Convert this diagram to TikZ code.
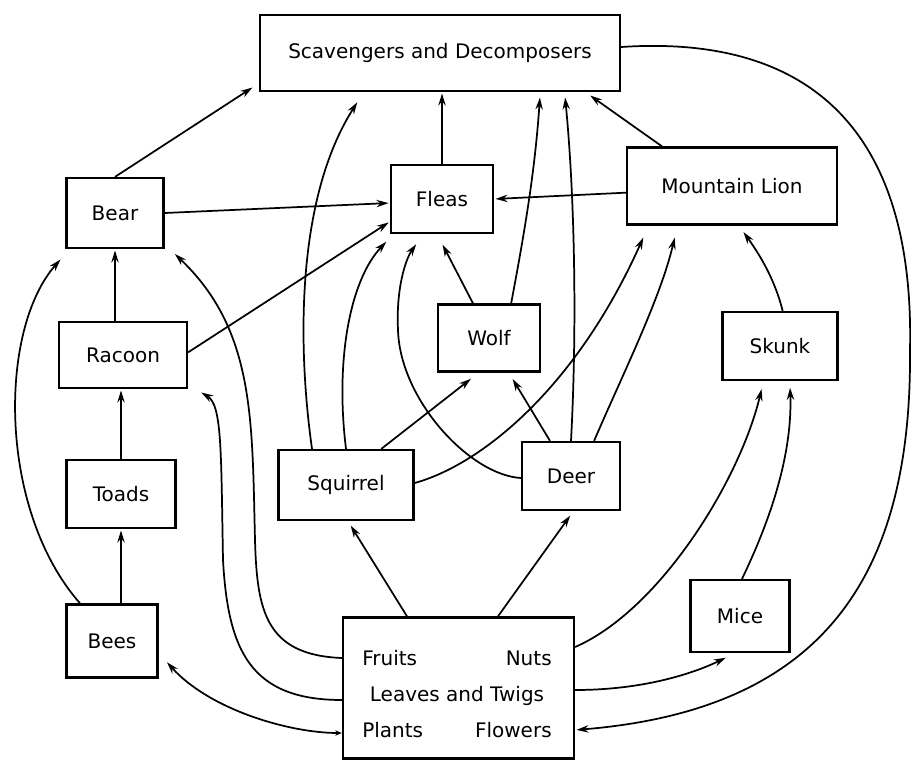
\documentclass[tikz,border=0pt]{standalone}
\usepackage{fontspec}
\setmainfont{DejaVu Sans}
\usetikzlibrary{arrows.meta}
\begin{document}
\begin{tikzpicture}[x=0.75pt,y=-0.75pt,
  box/.style={draw, line width=1.7pt, inner sep=0pt, font=\fontsize{15pt}{18pt}\selectfont},
  txt/.style={inner sep=0pt, align=center, font=\fontsize{15pt}{18pt}\selectfont},
  conn/.style={line width=1.3pt, -{Stealth[length=9pt,width=5.5pt]}, shorten >=1pt},
]
\useasboundingbox (0,0) rectangle (911,764);
\fill[white] (0,0) rectangle (911,764);

% nodes
\node[box, minimum width=270pt, minimum height=57pt] (scav) at (440,53) {Scavengers and Decomposers};
\node[box, minimum width=72.75pt, minimum height=52.5pt] (bear) at (115,213) {Bear};
\node[box, minimum width=76.5pt, minimum height=51pt] (fleas) at (442,199) {Fleas};
\node[box, minimum width=157.5pt, minimum height=57.75pt] (lion) at (732,186) {Mountain Lion};
\node[box, minimum width=96pt, minimum height=49.5pt] (racoon) at (123,355) {Racoon};
\node[box, minimum width=76.5pt, minimum height=50.25pt] (wolf) at (489,338) {Wolf};
\node[box, minimum width=86.25pt, minimum height=51pt] (skunk) at (780,346) {Skunk};
\node[box, minimum width=81.75pt, minimum height=51pt] (toads) at (121,494) {Toads};
\node[box, minimum width=101.25pt, minimum height=52.5pt] (squirrel) at (346,485) {Squirrel};
\node[box, minimum width=73.5pt, minimum height=51pt] (deer) at (571,476) {Deer};
\node[box, minimum width=68.25pt, minimum height=54.75pt] (bees) at (112,641) {Bees};
\node[box, minimum width=74.25pt, minimum height=54pt] (mice) at (740,616) {Mice};
\node[box, minimum width=173.25pt, minimum height=105.75pt] (plants) at (458.5,688) {};
\node[txt] (plantstext) at (457,694) {\makebox[142pt]{Fruits\hfill Nuts}\\[9pt]Leaves and Twigs\\[9pt]\makebox[142pt]{Plants\hfill Flowers}};

% connectors
\draw[conn] (bear.north) -- ([xshift=-4pt,yshift=4pt]scav.south west);
\draw[conn] (bear.east) -- ([yshift=-3pt]fleas.west);
\draw[conn] (racoon.north -| bear.south) -- (bear.south);
\draw[conn] ([yshift=2pt]racoon.east) -- ([yshift=-17pt]fleas.west);
\draw[conn] (toads.north) -- (racoon.south -| toads.north);
\draw[conn] (bees.north -| toads.south) -- (toads.south);
\draw[conn] ([xshift=11pt]bees.north west) .. controls (-2,510) and (-2,330) .. ([xshift=-3pt,yshift=-7pt]bear.south west);

\draw[conn] ([yshift=22.5pt]plants.west) .. controls (265,655) and (257,610) .. (255,540) .. controls (252,420) and (255,330) .. ([xshift=7pt,yshift=-3pt]bear.south east);
\draw[conn] ([yshift=-9pt]plants.west) .. controls (250,700) and (228,650) .. (223,560) .. controls (221,450) and (222,405) .. ([xshift=9pt,yshift=-2pt]racoon.south east);

\draw[conn] ([xshift=-25.5pt]squirrel.north) .. controls (298,350) and (295,200) .. ([xshift=-61.5pt,yshift=-6.75pt]scav.south);
\draw[conn] (squirrel.north) .. controls (335,360) and (350,280) .. ([xshift=-2pt,yshift=-5pt]fleas.south west);
\draw[conn] ([xshift=-25pt]squirrel.north east) -- ([xshift=-12.75pt,yshift=-4pt]wolf.south);
\draw[conn] ([yshift=1.5pt]squirrel.east) .. controls (480,465) and (575,390) .. ([xshift=13.5pt,yshift=-8pt]lion.south west);

\draw[conn] ([yshift=-1.5pt]deer.west) .. controls (470,475) and (400,400) .. (398,330) .. controls (396,290) and (405,260) .. ([xshift=-18.75pt,yshift=-6.75pt]fleas.south);
\draw[conn] ([xshift=-12pt]wolf.north) -- ([yshift=-7pt]fleas.south);
\draw[conn] ([xshift=-15.75pt]deer.north) -- ([xshift=17.25pt,yshift=-4pt]wolf.south);
\draw[conn] ([xshift=-22.5pt]wolf.north east) .. controls (525,230) and (535,170) .. ([xshift=75pt,yshift=-3pt]scav.south);
\draw[conn] (deer.north) .. controls (577,330) and (575,200) .. ([xshift=93.75pt,yshift=-3pt]scav.south);
\draw[conn] ([xshift=-20.25pt]deer.north east) .. controls (620,380) and (660,300) .. ([xshift=-42.75pt,yshift=-8pt]lion.south);

\draw[conn] (fleas.north) -- (fleas.north |- scav.south);
\draw[conn] ([yshift=-5pt]lion.west) -- (fleas.east);
\draw[conn] ([xshift=-52.5pt]lion.north) -- ([xshift=-24pt,yshift=-2pt]scav.south east);
\draw[conn] ([xshift=2pt]skunk.north) .. controls (775,280) and (760,255) .. ([xshift=8pt,yshift=-4pt]lion.south);

\draw[conn] ([yshift=30.75pt]plants.east) .. controls (660,610) and (740,480) .. ([xshift=30.4pt,yshift=-5pt]skunk.south west);
\draw[conn] ([xshift=1.5pt]mice.north) .. controls (780,500) and (792,440) .. ([xshift=7.5pt,yshift=-4pt]skunk.south);
\draw[conn] ([yshift=-1.5pt]plants.east) .. controls (640,690) and (690,675) .. ([xshift=-9.75pt,yshift=-3pt]mice.south);
\draw[conn] ([yshift=4.5pt]scav.east) .. controls (800,35) and (915,120) .. (910,350) .. controls (912,580) and (820,710) .. ([yshift=-31.5pt]plants.east);

\draw[conn] ([xshift=-38.6pt]plants.north) -- ([xshift=3pt,yshift=-2.5pt]squirrel.south);
\draw[conn] ([xshift=29.6pt]plants.north) -- ([yshift=-2.5pt]deer.south);
\draw[conn, {Stealth[length=5pt,width=4pt]}-{Stealth[length=9pt,width=5.5pt]}] ([yshift=-33.75pt]plants.west) .. controls (290,733) and (210,710) .. ([xshift=5.6pt,yshift=13pt]bees.south east);
\end{tikzpicture}
\end{document}
